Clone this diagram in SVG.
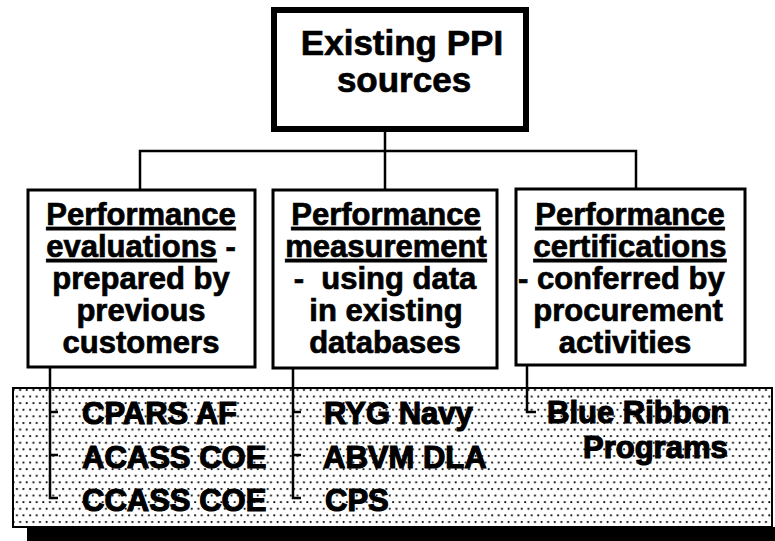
<svg xmlns="http://www.w3.org/2000/svg" width="775" height="541" viewBox="0 0 775 541">
<style>
  text { font-family: "Liberation Sans", Arial, Helvetica, sans-serif; font-weight: bold; fill: #000; stroke: #000; stroke-width: 0.7; }
  .top { font-size: 35px; }
  .box { font-size: 31px; }
  .item { font-size: 31px; stroke-width: 1.2; }
  .ul { text-decoration: underline; }
  .conn { fill: none; stroke: #000; stroke-width: 2.5; }
  .node { fill: #fff; stroke: #000; stroke-width: 3; }
</style>
<defs>
  <pattern id="dots" x="12" y="388" width="6.6" height="13.2" patternUnits="userSpaceOnUse">
    <circle cx="1.6" cy="2" r="1.1" fill="#000"/>
    <circle cx="4.9" cy="8.6" r="1.1" fill="#000"/>
  </pattern>
</defs>
<rect x="0" y="0" width="775" height="541" fill="#fff"/>

<g id="connectors">
  <path class="conn" d="M385,131 V190"/>
  <path class="conn" d="M140,190 V151 H636 V189"/>
</g>

<g id="top">
  <rect x="274" y="10" width="252" height="119" fill="#fff" stroke="#000" stroke-width="6"/>
  <text class="top" x="402" y="55" text-anchor="middle">Existing PPI</text>
  <text class="top" x="404" y="92" text-anchor="middle">sources</text>
</g>

<g id="evaluations">
  <rect class="node" x="28" y="190" width="227" height="177"/>
  <text class="box" x="141" y="225" text-anchor="middle"><tspan class="ul">Performance</tspan></text>
  <text class="box" x="141" y="257" text-anchor="middle"><tspan class="ul">evaluations</tspan> -</text>
  <text class="box" x="141" y="289" text-anchor="middle">prepared by</text>
  <text class="box" x="141" y="321" text-anchor="middle">previous</text>
  <text class="box" x="141" y="353" text-anchor="middle">customers</text>
</g>

<g id="measurement">
  <rect class="node" x="273" y="190" width="224" height="178"/>
  <text class="box" x="386" y="225" text-anchor="middle"><tspan class="ul">Performance</tspan></text>
  <text class="box" x="386" y="257" text-anchor="middle"><tspan class="ul">measurement</tspan></text>
  <text class="box" x="385" y="289" text-anchor="middle" xml:space="preserve">-  using data</text>
  <text class="box" x="386" y="321" text-anchor="middle">in existing</text>
  <text class="box" x="385" y="353" text-anchor="middle">databases</text>
</g>

<g id="certifications">
  <rect class="node" x="516" y="189" width="229" height="176"/>
  <text class="box" x="630" y="225" text-anchor="middle"><tspan class="ul">Performance</tspan></text>
  <text class="box" x="630" y="257" text-anchor="middle"><tspan class="ul">certifications</tspan></text>
  <text class="box" x="518" y="289">- conferred by</text>
  <text class="box" x="628" y="321" text-anchor="middle">procurement</text>
  <text class="box" x="625" y="353" text-anchor="middle">activities</text>
</g>

<g id="examples">
  <rect x="27" y="527" width="748" height="14" fill="#000"/>
  <rect x="13" y="388" width="759" height="139" fill="url(#dots)" stroke="#000" stroke-width="2"/>
  <g id="example-connectors">
    <path class="conn" d="M50,367 V498 H58 M50,412 H58 M50,455 H58"/>
    <path class="conn" d="M293,368 V498 H301 M293,412 H301 M293,455 H301"/>
    <path class="conn" d="M527,365 V412 H536"/>
  </g>
  <text class="item" x="82" y="424">CPARS AF</text>
  <text class="item" x="82" y="468">ACASS COE</text>
  <text class="item" x="82" y="511">CCASS COE</text>
  <text class="item" x="324" y="424">RYG Navy</text>
  <text class="item" x="323" y="468">ABVM DLA</text>
  <text class="item" x="325" y="511">CPS</text>
  <text class="item" x="547" y="423">Blue Ribbon</text>
  <text class="item" x="583" y="458">Programs</text>
</g>
</svg>
